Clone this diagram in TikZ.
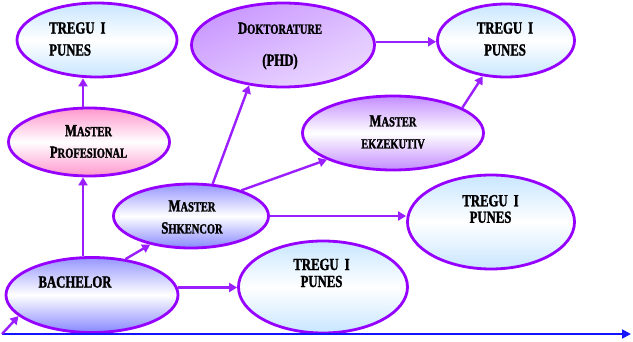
\documentclass[tikz,border=0pt]{standalone}
\usepackage{fontspec}
\usetikzlibrary{shapes.geometric,arrows.meta,calc,shadings}
\newfontfamily\df{Liberation Serif}[FakeStretch=0.75,FakeBold=1.6]
\newcommand\bigsz{\fontsize{17}{22}\selectfont}
\newcommand\smc[1]{{\fontsize{14}{14}\selectfont #1}}
\definecolor{bord}{RGB}{150,0,255}
\definecolor{arrc}{RGB}{155,30,255}
\definecolor{axc}{RGB}{20,20,255}
\definecolor{lblue}{RGB}{200,230,255}
\definecolor{lpink}{RGB}{255,150,205}
\definecolor{lviol}{RGB}{195,140,255}
\definecolor{lperi}{RGB}{150,150,255}
\begin{document}
\begin{tikzpicture}[x=1pt,y=-1pt,
  ell/.style={ellipse, draw=bord, line width=2.8pt, inner sep=0pt},
  tregu/.style={ell, top color=lblue, bottom color=lblue, middle color=white},
  pinkell/.style={ell, top color=lpink, bottom color=lpink, middle color=white},
  violell/.style={ell, top color=lviol, bottom color=lviol, middle color=white},
  periell/.style={ell, top color=lperi, bottom color=lperi!90!blue, middle color=white},
  dokell/.style={ell, upper left=lviol, lower right=lviol!25, upper right=lviol!60, lower left=lviol!60},
  lbl/.style={font=\df\bfseries\bigsz, inner sep=0pt, align=center},
  arr/.style={draw=arrc, line width=2.4pt, -{Triangle[length=8pt,width=9pt]}},
  axisline/.style={draw=axc, line width=1.8pt, -{Triangle[length=9pt,width=9pt]}}]
\useasboundingbox (0,0) rectangle (633,342);
% ellipses
\node[tregu, minimum width=160pt, minimum height=74pt] (tl) at (97,40) {};
\node[dokell, minimum width=183pt, minimum height=84pt] (dok) at (283,45) {};
\node[tregu, minimum width=137pt, minimum height=73pt] (ttr) at (506,40.5) {};
\node[pinkell, minimum width=161pt, minimum height=68pt] (prof) at (89,142) {};
\node[violell, minimum width=181pt, minimum height=74pt] (ekz) at (393,133) {};
\node[periell, minimum width=155pt, minimum height=64pt] (shk) at (191,216) {};
\node[periell, minimum width=172pt, minimum height=75pt] (bach) at (92,295) {};
\node[tregu, minimum width=169pt, minimum height=92pt] (tm) at (323,287) {};
\node[tregu, minimum width=167pt, minimum height=94pt] (tr) at (491,222) {};
% labels
\node[lbl, align=left, anchor=west] (t1) at (49,39) {TREGU\, I\\PUNES};
\node[lbl] (t2) at (280,46) {D\smc{OKTORATURE}\\[10pt](PHD)};
\node[lbl] (t3) at (505,39) {TREGU\, I\\PUNES};
\node[lbl, font=\df\bfseries\fontsize{17}{21.5}\selectfont] (t4) at (88.5,141.5) {M\smc{ASTER}\\P\smc{ROFESIONAL}};
\node[lbl] (t5) at (393,132) {M\smc{ASTER}\\\smc{EKZEKUTIV}};
\node[lbl] (t6) at (192,217) {M\smc{ASTER}\\S\smc{HKENCOR}};
\node[lbl] (t7) at (75,282) {BACHELOR};
\node[lbl, font=\df\bfseries\fontsize{17}{17}\selectfont] (t8) at (321.5,273) {TREGU\, I\\PUNES};
\node[lbl, font=\df\bfseries\fontsize{17}{16.5}\selectfont] (t9) at (490.5,209) {TREGU\, I\\PUNES};
% connectors
\coordinate (vx) at (83,0);
\coordinate (o) at (2,334);
\coordinate (xe) at (631,334);
\draw[arr] (bach.north -| vx) -- (prof.south -| vx);
\draw[arr] (prof.north -| vx) -- (tl.south -| vx);
\draw[arr] (bach.47) -- (shk.215);
\draw[arr] (bach.5) -- (bach.5 -| tm.west);
\draw[arr] (shk.east) -- (shk.east -| tr.west);
\draw[arr] (shk.56) -- (dok.230);
\draw[arr] (shk.27) -- (ekz.202);
\draw[arr] (dok.2) -- (dok.2 -| ttr.west);
\draw[arr] (ekz.20) -- (ttr.237);
\draw[axisline] (o) -- (xe);
\draw[arr] (o) -- (bach.196);
\end{tikzpicture}
\end{document}
